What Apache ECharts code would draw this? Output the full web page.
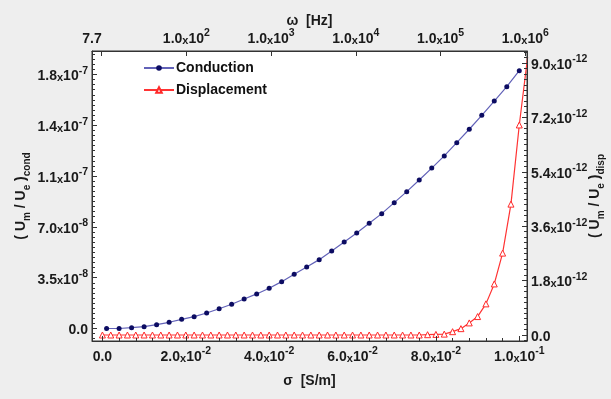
<!DOCTYPE html>
<html><head><meta charset="utf-8">
<script src="https://cdn.jsdelivr.net/npm/echarts@6/dist/echarts.min.js"></script>
<style>html,body{margin:0;padding:0;background:#eeeeee}#c{width:611px;height:399px}</style>
</head><body><div id="c"></div>
<script>
// ---- data ----
// conductivity sigma [S/m] for the conduction curve
const sigmaCond = [0.001,0.004,0.007,0.010,0.013,0.016,0.019,0.022,0.025,0.028,0.031,0.034,0.037,0.040,0.043,0.046,0.049,0.052,0.055,0.058,0.061,0.064,0.067,0.070,0.073,0.076,0.079,0.082,0.085,0.088,0.091,0.094,0.097,0.100];
// (Um/Ue)cond in units of 1e-8
const condVals = [0.00,0.00,0.06,0.13,0.27,0.44,0.65,0.84,1.10,1.40,1.72,2.09,2.45,2.85,3.32,3.84,4.36,4.88,5.49,6.13,6.77,7.46,8.14,8.92,9.70,10.52,11.37,12.23,13.17,14.12,15.11,16.12,17.14,18.27];
// conductivity sigma [S/m] for the displacement curve
const sigmaDisp = [0.000,0.002,0.004,0.006,0.008,0.010,0.012,0.014,0.016,0.018,0.020,0.022,0.024,0.026,0.028,0.030,0.032,0.034,0.036,0.038,0.040,0.042,0.044,0.046,0.048,0.050,0.052,0.054,0.056,0.058,0.060,0.062,0.064,0.066,0.068,0.070,0.072,0.074,0.076,0.078,0.080,0.082,0.084,0.086,0.088,0.090,0.092,0.094,0.096,0.098,0.100,0.102];
// (Um/Ue)disp in units of 1e-12
const dispVals = [0,0,0,0,0,0,0,0,0,0,0,0,0,0,0,0,0,0,0,0,0,0,0,0,0,0,0,0,0,0,0,0,0,0,0,0,0.00,0.00,0.00,0.01,0.02,0.03,0.11,0.21,0.40,0.61,1.03,1.69,2.71,4.33,6.95,9.20];

const seriesNames = ['Conduction','Displacement'];

// tick positions and labels
const xTicks = [0,0.02,0.04,0.06,0.08,0.10];
const xTickLabels = ['0.0','2.0x10^-2','4.0x10^-2','6.0x10^-2','8.0x10^-2','1.0x10^-1'];
const topTicks = [1,2,3,4,5,6];               // log10(omega)
const topLabelPos = [Math.log10(7.7),2,3,4,5,6];
const topTickLabels = ['7.7','1.0x10^2','1.0x10^3','1.0x10^4','1.0x10^5','1.0x10^6'];
const leftTicks = [0,3.6,7.2,10.8,14.4,18.0];  // units 1e-8
const leftTickLabels = ['0.0','3.5x10^-8','7.0x10^-8','1.1x10^-7','1.4x10^-7','1.8x10^-7'];
const rightTicks = [0,1.8,3.6,5.4,7.2,9.0];    // units 1e-12
const rightTickLabels = ['0.0','1.8x10^-12','3.6x10^-12','5.4x10^-12','7.2x10^-12','9.0x10^-12'];

// ---- helpers ----
const FONT = '"Liberation Sans", Arial, sans-serif';
const TXT = '#1a1a1a';
function rt(s){
  const m = s.match(/^(.*)x10\^(.*)$/);
  if(!m) return '{n|'+s+'}';
  return '{n|'+m[1]+'}{x|x}{n|10}{s|'+m[2]+'}';
}
function labeler(ticks, labels){
  return function(v){
    for(let i=0;i<ticks.length;i++){ if(Math.abs(ticks[i]-v) < 1e-9) return rt(labels[i]); }
    return '';
  };
}
const richLab = {
  n:{fontSize:14,fontWeight:'bold',fontFamily:FONT,color:TXT,lineHeight:18,verticalAlign:'bottom'},
  x:{fontSize:11,fontWeight:'bold',fontFamily:FONT,color:TXT,lineHeight:18,verticalAlign:'bottom',padding:[2,0,0,0]},
  s:{fontSize:10.5,fontWeight:'bold',fontFamily:FONT,color:TXT,lineHeight:12,verticalAlign:'top'}
};
const richName = {
  p:{fontSize:14,fontWeight:'bold',fontFamily:FONT,color:TXT,lineHeight:14,verticalAlign:'top'},
  sb:{fontSize:10,fontWeight:'bold',fontFamily:FONT,color:TXT,lineHeight:18,verticalAlign:'bottom'}
};
function minors(ticks, n, lo, hi){
  const out=[]; const step=(ticks[1]-ticks[0])/n;
  for(let k=-40;k<=(ticks.length-1)*n+40;k++){
    const v = ticks[0]+k*step;
    if(v>lo && v<hi && (k%n)!==0) out.push(+v.toFixed(12));
  }
  return out;
}

const X_MIN=-0.0025, X_MAX=0.10185;
const T_MIN=Math.log10(7.7), T_MAX=6.02;
const L_MIN=-0.886, L_MAX=19.666;
const R_MIN=-0.1985, R_MAX=9.397;
const AX = '#333333';

const xMinor = minors(xTicks,5,X_MIN,X_MAX);
const lMinor = minors(leftTicks,10,L_MIN,L_MAX);
const rMinor = minors(rightTicks,10,R_MIN,R_MAX);

function minorAxis(pos, min, max, vals){
  return {gridIndex:0, type:'value', position:pos, min:min, max:max, z:6,
    axisLine:{show:false,onZero:false}, splitLine:{show:false},
    axisLabel:{show:false},
    axisTick:{show:true,inside:true,length:3,customValues:vals,lineStyle:{color:AX,width:1}}};
}
const nameStyle = {fontSize:14,fontWeight:'bold',fontFamily:FONT,color:TXT};

const chart = echarts.init(document.getElementById('c'), null, {renderer:'canvas'});
chart.setOption({
  backgroundColor:'#eeeeee',
  animation:false,
  grid:[{left:92, top:51, right:84, bottom:58, show:true, backgroundColor:'#ffffff', borderColor:AX, borderWidth:1, outerBoundsMode:'none', containLabel:false}],
  legend:{
    left:143, top:61, orient:'vertical', itemGap:8, itemWidth:30, itemHeight:7, padding:0,
    data:seriesNames,
    textStyle:{fontSize:14,fontWeight:'bold',fontFamily:FONT,color:'#111',padding:[0,0,0,-3]}
  },
  xAxis:[
    {gridIndex:0, type:'value', position:'bottom', min:X_MIN, max:X_MAX, z:5,
     axisLine:{show:true,onZero:false,lineStyle:{color:AX}},
     axisTick:{show:true,inside:true,length:5,customValues:xTicks,lineStyle:{color:AX}},
     axisLabel:{customValues:xTicks, formatter:labeler(xTicks,xTickLabels), rich:richLab, margin:5},
     splitLine:{show:false},
     name:'σ  [S/m]', nameLocation:'middle', nameGap:33, nameMoveOverlap:false,
     nameTextStyle:nameStyle},
    {gridIndex:0, type:'value', position:'top', min:T_MIN, max:T_MAX, z:5,
     axisLine:{show:true,onZero:false,lineStyle:{color:AX}},
     axisTick:{show:true,inside:true,length:5,customValues:topTicks,lineStyle:{color:AX}},
     axisLabel:{customValues:topLabelPos, formatter:labeler(topLabelPos,topTickLabels), rich:richLab, margin:5},
     splitLine:{show:false},
     name:'ω  [Hz]', nameLocation:'middle', nameGap:23, nameMoveOverlap:false,
     nameTextStyle:nameStyle},
    minorAxis('bottom', X_MIN, X_MAX, xMinor)
  ],
  yAxis:[
    {gridIndex:0, type:'value', position:'left', min:L_MIN, max:L_MAX, z:5,
     axisLine:{show:true,onZero:false,lineStyle:{color:AX}},
     axisTick:{show:true,inside:true,length:5,customValues:leftTicks,lineStyle:{color:AX}},
     axisLabel:{customValues:leftTicks, formatter:labeler(leftTicks,leftTickLabels), rich:richLab, margin:4},
     splitLine:{show:false},
     name:'{p|( U}{sb|m}{p| / U}{sb|e}{p| )}{sb|cond}', nameLocation:'middle', nameRotate:90, nameGap:60, nameMoveOverlap:false,
     nameTextStyle:{rich:richName}},
    {gridIndex:0, type:'value', position:'right', min:R_MIN, max:R_MAX, z:5,
     axisLine:{show:true,onZero:false,lineStyle:{color:AX}},
     axisTick:{show:true,inside:true,length:5,customValues:rightTicks,lineStyle:{color:AX}},
     axisLabel:{customValues:rightTicks, formatter:labeler(rightTicks,rightTickLabels), rich:richLab, margin:4},
     splitLine:{show:false},
     name:'{p|( U}{sb|m}{p| / U}{sb|e}{p| )}{sb|disp}', nameLocation:'middle', nameRotate:90, nameGap:61, nameMoveOverlap:false,
     nameTextStyle:{rich:richName}},
    minorAxis('left', L_MIN, L_MAX, lMinor),
    minorAxis('right', R_MIN, R_MAX, rMinor)
  ],
  series:[
    {name:seriesNames[0], type:'line', xAxisIndex:0, yAxisIndex:0,
     data:sigmaCond.map((s,i)=>[s,condVals[i]]),
     symbol:'circle', symbolSize:5, showSymbol:true,
     lineStyle:{color:'#6262b8',width:1.2},
     itemStyle:{color:'#0c0c62'}},
    {name:seriesNames[1], type:'line', xAxisIndex:0, yAxisIndex:1,
     data:sigmaDisp.map((s,i)=>[s,dispVals[i]]),
     symbol:'triangle', symbolSize:6, showSymbol:true,
     lineStyle:{color:'#ff3333',width:1.2},
     itemStyle:{color:'#ffffff',borderColor:'#ff2a2a',borderWidth:1}}
  ]
});
</script></body></html>
